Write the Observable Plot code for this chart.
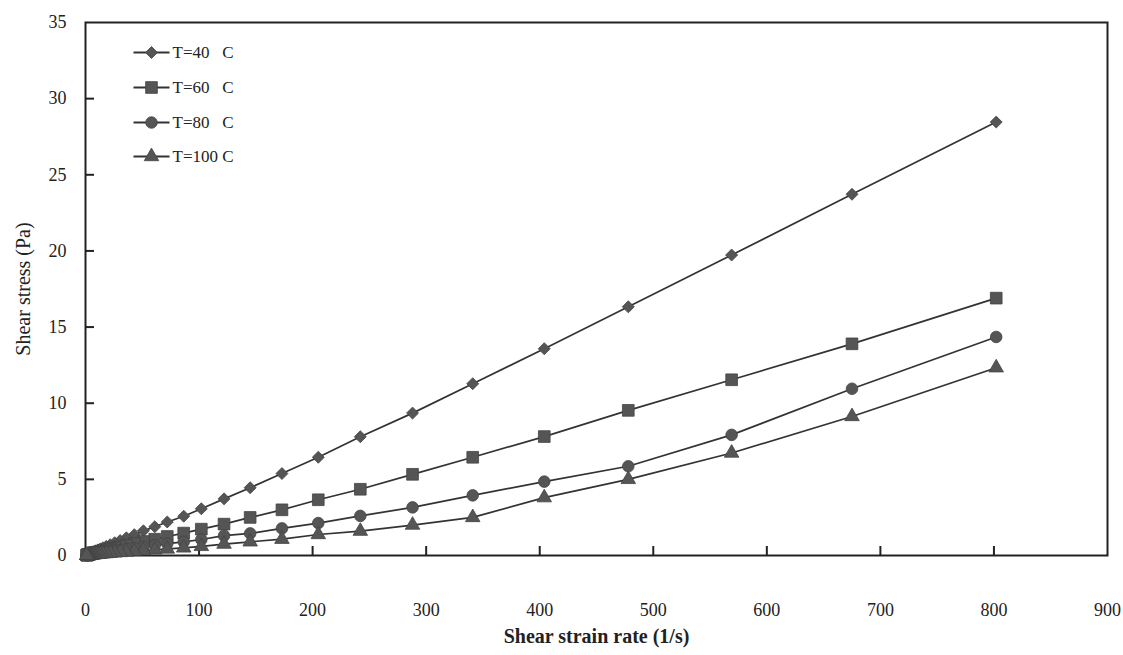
<!DOCTYPE html>
<html><head><meta charset="utf-8">
<script src="https://cdn.jsdelivr.net/npm/d3@7"></script>
<script src="https://cdn.jsdelivr.net/npm/@observablehq/plot@0.6"></script>
<style>
html,body{margin:0;padding:0;background:#fff;}
svg text{white-space:pre;}
</style></head><body><div id="chart"></div>
<script>
// Shear strain rate (1/s), shared by all four temperature series
const shearRate = [802, 675, 569, 478, 404, 341, 288, 242, 205, 173, 145, 122, 102, 86.5, 72, 61, 51, 43, 36, 30.5, 25.7, 21.7, 18.3, 15.4, 13, 11, 9.2, 7.8, 6.6, 5.5, 4.7, 3.9, 3.3, 2.8, 2.4, 2.0, 1.7, 1.4, 1.2, 1.0];
// Shear stress (Pa)
const stress40  = [28.46, 23.72, 19.73, 16.33, 13.58, 11.28, 9.35, 7.8, 6.45, 5.38, 4.45, 3.72, 3.07, 2.58, 2.2, 1.89, 1.62, 1.37, 1.16, 0.98, 0.84, 0.71, 0.6, 0.51, 0.43, 0.37, 0.31, 0.26, 0.22, 0.19, 0.16, 0.14, 0.12, 0.1, 0.09, 0.08, 0.07, 0.06, 0.05, 0.04];
const stress60  = [16.9, 13.9, 11.54, 9.53, 7.81, 6.45, 5.33, 4.35, 3.66, 3.0, 2.5, 2.06, 1.73, 1.47, 1.25, 1.07, 0.92, 0.79, 0.68, 0.58, 0.5, 0.43, 0.37, 0.32, 0.27, 0.23, 0.2, 0.17, 0.15, 0.13, 0.11, 0.09, 0.08, 0.07, 0.06, 0.05, 0.04, 0.035, 0.03, 0.025];
const stress80  = [14.35, 10.95, 7.92, 5.86, 4.85, 3.95, 3.16, 2.6, 2.13, 1.78, 1.45, 1.3, 1.05, 0.9, 0.78, 0.67, 0.57, 0.49, 0.42, 0.36, 0.31, 0.27, 0.23, 0.2, 0.17, 0.15, 0.13, 0.11, 0.1, 0.085, 0.075, 0.065, 0.055, 0.047, 0.04, 0.035, 0.03, 0.025, 0.02, 0.018];
const stress100 = [12.33, 9.13, 6.73, 5.0, 3.8, 2.5, 2.0, 1.6, 1.38, 1.07, 0.9, 0.75, 0.6, 0.5, 0.43, 0.37, 0.32, 0.27, 0.23, 0.2, 0.17, 0.15, 0.13, 0.11, 0.095, 0.08, 0.07, 0.06, 0.05, 0.045, 0.04, 0.035, 0.03, 0.025, 0.02, 0.018, 0.015, 0.012, 0.01, 0.008];

const seriesNames = ["T=40\u00a0\u00a0\u00a0C", "T=60\u00a0\u00a0\u00a0C", "T=80\u00a0\u00a0\u00a0C", "T=100\u00a0C"];
const xTicks = [0, 100, 200, 300, 400, 500, 600, 700, 800, 900];
const yTicks = [0, 5, 10, 15, 20, 25, 30, 35];
const xTitle = "Shear strain rate (1/s)";
const yTitle = "Shear stress (Pa)";

const seriesValues = [stress40, stress60, stress80, stress100];
const symbols = ["diamond2", "square", "circle", "triangle"];
const radii = [5.4, 6.6, 5.8, 5.4];

const W = 1123, H = 655, mL = 85, mR = 16, mT = 22, mB = 100;
const innerW = W - mL - mR, innerH = H - mT - mB;
const lineColor = "#333", markFill = "#555";

const table = seriesNames.flatMap((name, i) =>
  shearRate.map((x, j) => ({series: name, x, y: seriesValues[i][j]})));

const legendLine = {draw(ctx) { ctx.moveTo(-18, 0); ctx.lineTo(18, 0); }};
const legendDy = [30, 65, 100, 134];

const marks = [
  Plot.frame({stroke: "#222", strokeWidth: 2}),
  Plot.tickX(xTicks.slice(1, -1), {x: d => d, insetTop: innerH - 9, stroke: "#222", strokeWidth: 2}),
  Plot.tickY(yTicks.slice(1, -1), {y: d => d, insetRight: innerW - 9, stroke: "#222", strokeWidth: 2}),
  Plot.axisX({ticks: xTicks, tickSize: 0, tickPadding: 48, fontSize: 18, label: null, tickFormat: d => String(d)}),
  Plot.axisY({ticks: yTicks, tickSize: 0, tickPadding: 19, fontSize: 18, label: null, tickFormat: d => String(d)}),
  Plot.text([yTitle], {frameAnchor: "left", dx: -62, rotate: -90, text: d => d, fontSize: 20, textAnchor: "middle", fill: "#222"}),
  Plot.text([xTitle], {frameAnchor: "bottom", dy: 87, text: d => d, fontSize: 20, fontWeight: "bold", textAnchor: "middle", fill: "#222"}),
  Plot.line(table, {x: "x", y: "y", z: "series", stroke: lineColor, strokeWidth: 1.7})
];
seriesNames.forEach((name, i) => {
  marks.push(Plot.dot(table.filter(d => d.series === name), {x: "x", y: "y", symbol: () => symbols[i], r: radii[i], fill: markFill, stroke: "#444", strokeWidth: 0.8}));
  marks.push(Plot.dot([name], {frameAnchor: "top-left", dx: 66, dy: legendDy[i], symbol: () => legendLine, r: 5, stroke: lineColor, strokeWidth: 1.8, fill: "none"}));
  marks.push(Plot.dot([name], {frameAnchor: "top-left", dx: 66, dy: legendDy[i], symbol: () => symbols[i], r: radii[i], fill: markFill, stroke: "#444", strokeWidth: 0.8}));
  marks.push(Plot.text([name], {frameAnchor: "top-left", dx: 87, dy: legendDy[i], text: d => d, textAnchor: "start", lineAnchor: "middle", fontSize: 17, fill: "#222"}));
});

const chart = Plot.plot({
  width: W, height: H,
  marginLeft: mL, marginRight: mR, marginTop: mT, marginBottom: mB,
  x: {domain: [0, 900]},
  y: {domain: [0, 35]},
  symbol: {type: "identity"},
  style: {fontFamily: "'Liberation Serif', 'DejaVu Serif', serif", fontSize: "18px", color: "#222", background: "#fff"},
  marks
});
document.getElementById("chart").appendChild(chart);
</script>
</body></html>
